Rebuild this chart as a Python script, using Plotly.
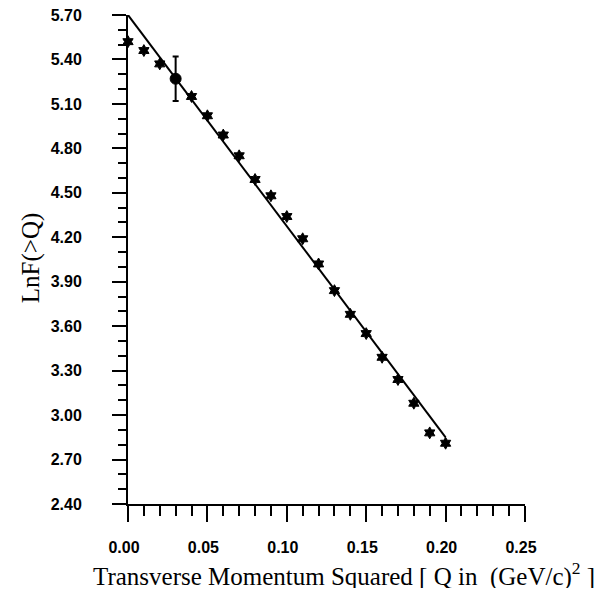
import plotly.graph_objects as go

# Data
q_star = [0.00, 0.01, 0.02, 0.04, 0.05, 0.06, 0.07, 0.08, 0.09, 0.10,
          0.11, 0.12, 0.13, 0.14, 0.15, 0.16, 0.17, 0.18, 0.19, 0.20]
lnf_star = [5.52, 5.46, 5.37, 5.15, 5.02, 4.89, 4.75, 4.59, 4.48, 4.34,
            4.19, 4.02, 3.84, 3.68, 3.55, 3.39, 3.24, 3.08, 2.88, 2.81]

q_err = [0.03]
lnf_err = [5.27]
err_size = [0.15]

fit_q = [0.00, 0.20]
fit_lnf = [5.70, 2.85]

x_ticks = [0.00, 0.05, 0.10, 0.15, 0.20, 0.25]
x_tick_labels = ["0.00", "0.05", "0.10", "0.15", "0.20", "0.25"]
y_ticks = [2.40, 2.70, 3.00, 3.30, 3.60, 3.90, 4.20, 4.50, 4.80, 5.10, 5.40, 5.70]
y_tick_labels = ["2.40", "2.70", "3.00", "3.30", "3.60", "3.90", "4.20",
                 "4.50", "4.80", "5.10", "5.40", "5.70"]
y_range = [2.40, 5.70]

fig = go.Figure()

# fitted line lives on the overlay axis (same range) so that axis is drawn
fig.add_trace(go.Scatter(
    x=fit_q, y=fit_lnf, mode="lines", yaxis="y2",
    line=dict(color="black", width=2),
    cliponaxis=False, showlegend=False, hoverinfo="skip"))

fig.add_trace(go.Scatter(
    x=q_star, y=lnf_star, mode="markers",
    marker=dict(symbol="hexagram", size=9, color="black",
                line=dict(color="black", width=1)),
    cliponaxis=False, showlegend=False))

fig.add_trace(go.Scatter(
    x=q_err, y=lnf_err, mode="markers",
    marker=dict(symbol="circle", size=11, color="black",
                line=dict(color="black", width=1)),
    error_y=dict(type="data", array=err_size, visible=True,
                 color="black", thickness=2, width=3),
    cliponaxis=False, showlegend=False))

tickfont = dict(family="Liberation Sans", size=16, color="black", weight="bold")

fig.update_layout(
    xaxis=dict(
        range=[0, 0.25], tickvals=x_ticks, ticktext=x_tick_labels,
        showline=True, linecolor="black", linewidth=2, mirror=False,
        ticks="outside", ticklen=16, tickwidth=1.5, tickcolor="black",
        minor=dict(dtick=0.01, ticks="outside", ticklen=10, tickwidth=1.5,
                   tickcolor="black", showgrid=False),
        showgrid=False, zeroline=False, tickfont=tickfont,
        ticklabelstandoff=12, ticklabelshift=-4,
        ticklabeloverflow="allow", automargin=False),
    # main y axis: line plus visible major/minor ticks
    yaxis=dict(
        range=y_range, tickvals=y_ticks, showticklabels=False,
        showline=True, linecolor="black", linewidth=2, mirror=False,
        ticks="outside", ticklen=14, tickwidth=1.5, tickcolor="black",
        minor=dict(dtick=0.1, tick0=2.4, ticks="outside", ticklen=8,
                   tickwidth=1.5, tickcolor="black", showgrid=False),
        showgrid=False, zeroline=False, automargin=False),
    # overlay y axis: tick labels, pushed out by transparent long ticks
    yaxis2=dict(
        overlaying="y", side="left", anchor="x",
        range=y_range, tickvals=y_ticks, ticktext=y_tick_labels,
        showline=False, ticks="outside", ticklen=42, tickwidth=1,
        tickcolor="rgba(0,0,0,0)", tickfont=tickfont,
        showgrid=False, zeroline=False, ticklabeloverflow="allow",
        automargin=False),
)

title_font = dict(family="Liberation Serif", size=25, color="black")

# The page body has an 8px margin; the figure is sized to fit inside the window.
fig.update_layout(
    width=589, height=580,
    margin=dict(l=120, r=72, t=7, b=84, autoexpand=False),
    plot_bgcolor="white", paper_bgcolor="white",
    annotations=[
        dict(text="Transverse Momentum Squared [ Q in&nbsp; (GeV/c)<sup>2</sup> ]",
             xref="paper", yref="paper", x=0.544, y=-0.145,
             xanchor="center", yanchor="middle", showarrow=False,
             font=title_font),
        dict(text="LnF(>Q)", xref="paper", yref="paper", x=-0.244, y=0.503,
             xanchor="center", yanchor="middle", showarrow=False,
             textangle=-90, font=title_font),
    ],
)

fig.write_html("out.html")
